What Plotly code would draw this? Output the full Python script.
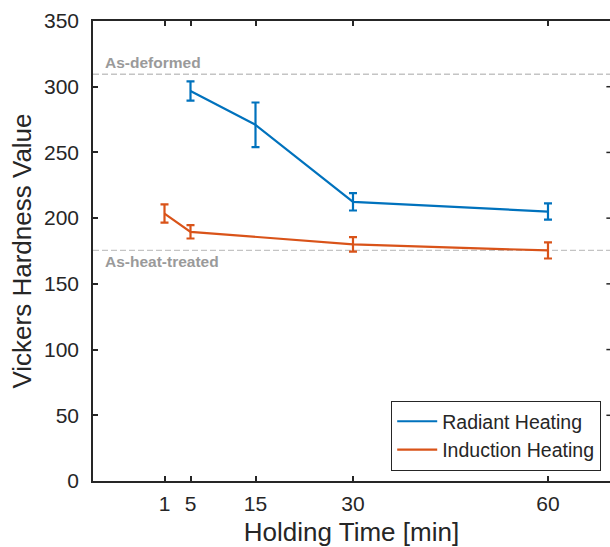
import plotly.graph_objects as go

# ---- data ----
time_radiant = [5, 15, 30, 60]
hv_radiant = [296.7, 271, 212.4, 205]
err_radiant = [7.3, 17, 6.6, 6.2]

time_induction = [1, 5, 30, 60]
hv_induction = [203.5, 189.6, 180, 175.4]
err_induction = [6.9, 5.1, 5.5, 6.1]

ref_deformed = 309.5
ref_heat_treated = 175.5
ref_labels = ["As-deformed", "As-heat-treated"]

x_ticks = [1, 5, 15, 30, 60]
y_ticks = [0, 50, 100, 150, 200, 250, 300, 350]

BLUE = "#0072BD"
ORANGE = "#D95319"
AX = "#262626"
FONT = "Liberation Sans, Arial, sans-serif"

fig = go.Figure()
fig.add_trace(go.Scatter(
    x=time_radiant, y=hv_radiant, mode="lines", name="Radiant Heating",
    line=dict(color=BLUE, width=2.2),
    error_y=dict(type="data", array=err_radiant, color=BLUE, thickness=2.2, width=4),
))
fig.add_trace(go.Scatter(
    x=time_induction, y=hv_induction, mode="lines", name="Induction Heating",
    line=dict(color=ORANGE, width=2.2),
    error_y=dict(type="data", array=err_induction, color=ORANGE, thickness=2.2, width=4),
))

# reference dashed lines
for yv in [ref_deformed, ref_heat_treated]:
    fig.add_shape(type="line", xref="paper", x0=0, x1=1, yref="y", y0=yv, y1=yv,
                  line=dict(color="#c4c4c4", width=1.3, dash="6px,3px"), layer="below")

fig.add_annotation(xref="paper", x=0, xshift=10, xanchor="left", yref="y", y=ref_deformed,
                   yanchor="bottom", yshift=1, text="<b>" + ref_labels[0] + "</b>", showarrow=False,
                   font=dict(size=15.5, color="#9a9a9a", family=FONT))
fig.add_annotation(xref="paper", x=0, xshift=10, xanchor="left", yref="y", y=ref_heat_treated,
                   yanchor="top", yshift=-1, text="<b>" + ref_labels[1] + "</b>", showarrow=False,
                   font=dict(size=15.5, color="#9a9a9a", family=FONT))

# right-side ticks (right spine is outside the visible area)
for yv in y_ticks[1:-1]:
    fig.add_shape(type="line", xref="paper", x0=0.993, x1=1.0, yref="y", y0=yv, y1=yv,
                  line=dict(color=AX, width=1.5))

fig.update_layout(
    width=610, height=547,
    margin=dict(l=93, r=0, t=21, b=66),
    paper_bgcolor="white", plot_bgcolor="white",
    font=dict(family=FONT, color=AX, size=20),
    showlegend=True,
    legend=dict(
        x=0.9826, xanchor="right", y=0.022, yanchor="bottom",
        bgcolor="white", bordercolor=AX, borderwidth=1.2,
        font=dict(size=19.5, color=AX, family=FONT),
        tracegroupgap=0, itemwidth=40,
    ),
    xaxis=dict(
        range=[-10, 69.54], tickmode="array", tickvals=x_ticks,
        ticktext=[str(v) for v in x_ticks],
        ticks="inside", ticklen=5, tickwidth=1.5, tickcolor=AX,
        showline=True, linecolor=AX, linewidth=1.6, mirror="ticks",
        showgrid=False, zeroline=False,
        tickfont=dict(size=21), ticklabelstandoff=3,
        title=dict(text="Holding Time [min]", font=dict(size=26), standoff=9),
    ),
    yaxis=dict(
        range=[0, 350], tickmode="array", tickvals=y_ticks,
        ticks="inside", ticklen=5, tickwidth=1.5, tickcolor=AX,
        showline=True, linecolor=AX, linewidth=1.6,
        showgrid=False, zeroline=False,
        tickfont=dict(size=21), ticklabelstandoff=8,
        title=dict(text="Vickers Hardness Value", font=dict(size=26), standoff=5),
    ),
)

fig.write_html("out.html")
